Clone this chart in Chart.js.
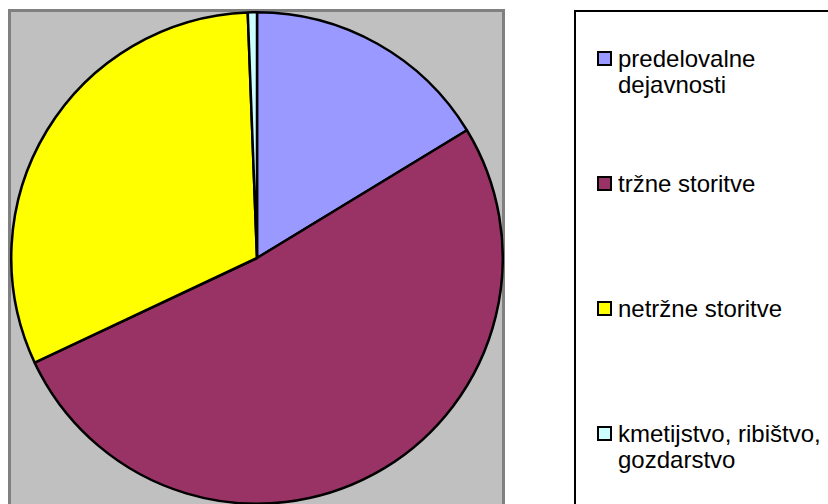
<!DOCTYPE html>
<html>
<head>
<meta charset="utf-8">
<script src="https://cdn.jsdelivr.net/npm/chart.js@4/dist/chart.umd.min.js"></script>
<style>
    body {
        margin: 0;
        background: #ffffff;
        font-family: "Liberation Sans", Arial, sans-serif;
    }
    #wrap {
        position: relative;
        width: 828px;
        height: 504px;
        overflow: hidden;
        background: #ffffff;
    }
    #plot-area {
        position: absolute;
        left: 8px;
        top: 9px;
        width: 491px;
        height: 600px;
        background: #c0c0c0;
        border: 3px solid #808080;
    }
    #pie-box {
        position: absolute;
        left: 10px;
        top: 11px;
        width: 494px;
        height: 494px;
    }
    #legend-box {
        position: absolute;
        left: 574px;
        top: 10px;
        width: 300px;
        height: 600px;
        border: 2px solid #000000;
        background: #ffffff;
    }
    .legend-item {
        position: absolute;
        left: 597px;
        font-size: 24px;
        line-height: 26px;
        color: #000000;
    }
    .legend-swatch {
        position: absolute;
        left: 0;
        top: 5px;
        width: 11px;
        height: 11px;
        border: 2px solid #000000;
    }
    .legend-text {
        margin-left: 21px;
        white-space: nowrap;
    }
</style>
</head>
<body>
<div id="wrap">
    <div id="plot-area"></div>
    <div id="pie-box"><canvas id="gdp-pie"></canvas></div>
    <div id="legend-box"></div>
    <div id="legend-list"></div>
</div>
<script>
// Sector shares (%)
let sectors = [
    ["predelovalne", "dejavnosti"],
    ["tržne storitve"],
    ["netržne storitve"],
    ["kmetijstvo, ribištvo,", "gozdarstvo"],
];
let shares = [16.3, 51.7, 31.4, 0.6];
let colors = ["#9999ff", "#993366", "#ffff00", "#ccffff"];

// build legend from chart data
function buildLegend(chart) {
    let list = document.getElementById("legend-list");
    chart.data.labels.forEach((label, i) => {
        let item = document.createElement("div");
        item.classList.add("legend-item");
        item.style.top = 46 + i * 125 + "px";
        let swatch = document.createElement("div");
        swatch.classList.add("legend-swatch");
        swatch.style.background = chart.data.datasets[0].backgroundColor[i];
        let text = document.createElement("div");
        text.classList.add("legend-text");
        text.innerHTML = label.join("<br>");
        item.appendChild(swatch);
        item.appendChild(text);
        list.appendChild(item);
    });
}

const ctx = document.getElementById("gdp-pie").getContext("2d");
const pieChart = new Chart(ctx, {
    type: "pie",
    data: {
        labels: sectors,
        datasets: [
            {
                data: shares,
                backgroundColor: colors,
                borderColor: "#000000",
                borderWidth: 2.5,
            },
        ],
    },
    options: {
        responsive: true,
        maintainAspectRatio: false,
        animation: false,
        plugins: {
            legend: {
                display: false,
            },
            tooltip: {
                enabled: false,
            },
        },
    },
});

buildLegend(pieChart);
</script>
</body>
</html>
